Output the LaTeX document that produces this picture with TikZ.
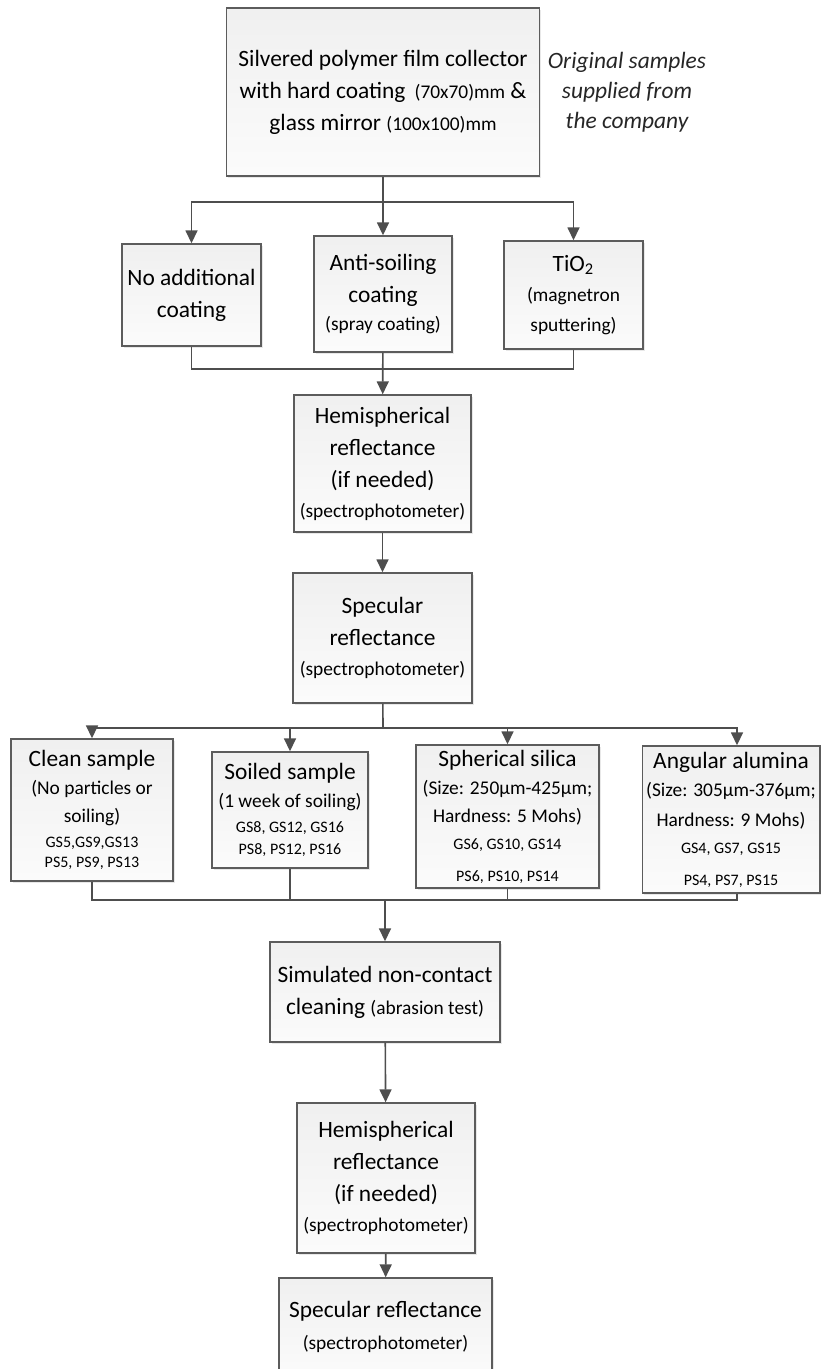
\documentclass[tikz,border=0pt]{standalone}
\usepackage{fontspec}
\setmainfont{Carlito}
\usepackage{tikz}
\usetikzlibrary{arrows.meta,shadows}
\definecolor{linegray}{RGB}{78,78,78}
\definecolor{boxedge}{RGB}{92,92,92}
\newcommand{\medsz}{\fontsize{9.7}{13}\selectfont}
\newcommand{\smlsz}{\fontsize{8}{11}\selectfont}

\begin{document}
\begin{tikzpicture}[x=0.5pt, y=-0.5pt,
  box/.style={draw=boxedge, line width=0.7pt, top color=gray!12, bottom color=gray!3,
    drop shadow={opacity=0.18, shadow xshift=0.8pt, shadow yshift=-0.8pt},
    align=center, inner sep=2pt, font=\fontsize{11.7}{16}\selectfont},
  note/.style={align=center, font=\fontsize{11.7}{15}\selectfont\itshape, text=black!85},
  link/.style={draw=linegray, line width=0.8pt},
  flow/.style={link, -{Triangle[length=6.5pt, width=6pt]}}]
\useasboundingbox (0,0) rectangle (820,1369);
%%% samples and coatings %%%

      \node[box, minimum width=156.5pt, minimum height=84pt] (src) at (383,92)
        {Silvered polymer film collector\\
         with hard coating \,{\medsz(70x70)mm} \&\\
         glass mirror {\medsz(100x100)mm}};
      \node[note] (orig) at (627,92) {Original samples\\supplied from\\the company};
      %%
      \node[box, minimum width=69.5pt, minimum height=51pt] (noadd) at (191.5,295)
        {No additional\\coating};
      \node[box, minimum width=69pt, minimum height=58pt] (anti) at (383,294)
        {Anti-soiling\\coating\\[-2pt]{\medsz(spray coating)}};
      \node[box, minimum width=69.5pt, minimum height=54pt] (tio) at (573.5,295)
        {TiO\textsubscript{2}\\[-1pt]{\medsz(magnetron}\\[-1pt]{\medsz sputtering)}};
      %%
      \node[box, minimum width=88.5pt, minimum height=68.5pt] (hemi1) at (382.5,463.5)
        {Hemispherical\\reflectance\\(if needed)\\[-1pt]{\medsz(spectrophotometer)}};
      \node[box, minimum width=89.5pt, minimum height=65pt] (spec1) at (382.5,638)
        {Specular\\reflectance\\[-1pt]{\medsz(spectrophotometer)}};

%%% sample groups %%%

      \node[box, minimum width=81pt, minimum height=71pt] (clean) at (92,810)
        {Clean sample\\[-2pt]{\medsz(No particles or}\\[-2pt]{\medsz soiling)}\\[-3.5pt]
         {\smlsz GS5,GS9,GS13}\\[-6pt]{\smlsz PS5, PS9, PS13}};
      \node[box, minimum width=78pt, minimum height=58pt] (soiled) at (290,810)
        {Soiled sample\\[-2pt]{\medsz(1 week of soiling)}\\[-3.5pt]
         {\smlsz GS8, GS12, GS16}\\[-5pt]{\smlsz PS8, PS12, PS16}};
      \node[box, minimum width=91.5pt, minimum height=71.5pt] (silica) at (507.5,816.5)
        {Spherical silica\\[-2pt]{\medsz(Size: 250µm-425µm;}\\[-2pt]{\medsz Hardness: 5 Mohs)}\\[-2.5pt]
         {\smlsz GS6, GS10, GS14}\\{\smlsz PS6, PS10, PS14}};
      \node[box, minimum width=84pt, minimum height=73.5pt] (alumina) at (731,819.5)
        {Angular alumina\\[-2pt]{\medsz(Size: 305µm-376µm;}\\[-1pt]{\medsz Hardness: 9 Mohs)}\\[-2.5pt]
         {\smlsz GS4, GS7, GS15}\\{\smlsz PS4, PS7, PS15}};

%%% cleaning and measuring again %%%

      \node[box, minimum width=115pt, minimum height=50pt] (sim) at (385,992)
        {Simulated non-contact\\cleaning {\medsz(abrasion test)}};
      \node[box, minimum width=89pt, minimum height=75pt] (hemi2) at (386,1178)
        {Hemispherical\\reflectance\\(if needed)\\[-1pt]{\medsz(spectrophotometer)}};
      \node[box, minimum width=106.5pt, minimum height=49pt] (spec2) at (385.5,1327)
        {Specular reflectance\\{\medsz(spectrophotometer)}};

%%% connectors %%%

      \coordinate (split1) at (383,202);
      \draw[link] (src) -- (split1);
      \draw[flow] (split1) -| (noadd);
      \draw[flow] (split1) -- (anti);
      \draw[flow] (split1) -| (tio);
      %%
      \coordinate (merge1) at (383,369);
      \draw[link] (noadd) |- (merge1);
      \draw[link] (tio) |- (merge1);
      \draw[flow] (anti) -- (hemi1);
      \draw[flow] (hemi1) -- (spec1);
      %%
      \coordinate (split2) at (383,728);
      \draw[link] (spec1) -- (split2);
      \draw[flow] (split2) -| (clean);
      \draw[flow] (split2) -| (soiled);
      \draw[flow] (split2) -| (silica);
      \draw[flow] (split2) -| ([xshift=3pt]alumina.north);
      %%
      \coordinate (merge2) at (385,900);
      \draw[link] (clean) |- (merge2);
      \draw[link] ([xshift=3pt]alumina.south) |- (merge2);
      \draw[link] (soiled) -- (soiled |- merge2);
      \draw[link] (silica) -- (silica |- merge2);
      \draw[flow] (merge2) -- (sim);
      \draw[flow] (sim) -- (hemi2);
      \draw[flow] (hemi2) -- (spec2);

\end{tikzpicture}
\end{document}
